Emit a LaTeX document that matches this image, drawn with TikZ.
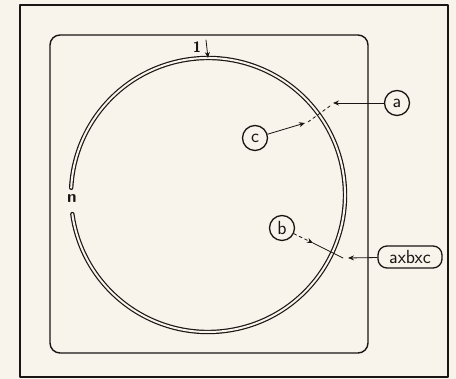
\documentclass[tikz,border=0pt]{standalone}
\usetikzlibrary{arrows.meta}
\definecolor{paper}{RGB}{248,244,236}
\definecolor{ink}{RGB}{25,22,20}
\begin{document}
\begin{tikzpicture}[line join=round, line cap=round,>={Stealth[length=6pt,width=5pt]},x=1pt,y=1pt,color=ink]
	\tikzset{every node/.style={font=\sffamily\fontsize{19}{19}\selectfont},
		tag/.style={draw,circle,line width=1.3pt,inner sep=0pt,minimum size=25pt},
		longtag/.style={draw,rounded corners=9pt,line width=1.3pt,inner sep=3pt,minimum height=22pt,minimum width=64pt}}
	\def\cx{208} \def\cy{184} \def\r{137}
	\fill[paper] (0,0) rectangle (456,379);
	\useasboundingbox (0,0) rectangle (456,379);
	% frames
	\draw[line width=1.8pt] (20,2) rectangle (448,374);
	\draw[line width=1.4pt,rounded corners=10pt] (50,26) rectangle (368,344);
	% ring with gap at n
	\draw[double=paper,double distance=2pt,line width=1.2pt] ({\cx+\r*cos(188)},{\cy+\r*sin(188)}) arc (188:537:\r);
	\node[font=\sffamily\bfseries\fontsize{17}{17}\selectfont] (n) at (72,180) {n};
	\node[font=\sffamily\bfseries\fontsize{15}{15}\selectfont] (one) at (197,332) {1};
	\coordinate (top) at (\cx,{\cy+\r});
	\draw[->,thick] (206,339) -- (top);
	% labels
	\node[tag] (a) at (397,276) {a};
	\node[tag] (c) at (255,241) {c};
	\node[tag] (b) at (282,151) {b};
	\node[longtag] (abc) at (410,122) {axbxc};
	\coordinate (a1) at (333,276);
	\coordinate (c1) at (305,256);
	\coordinate (b1) at (313,136);
	\coordinate (abc1) at (348,121);
	\draw[->,thick] (a) -- (a1);
	\draw[->,thick] (c) -- (c1);
	\draw[->,thick,dashed] (b) -- (b1);
	\draw[->,thick] (abc) -- (abc1);
	\draw[thick,dashed] (330,273) -- (308,257);
	\draw[thick] (b1) -- (343,121);
\end{tikzpicture}
\end{document}
